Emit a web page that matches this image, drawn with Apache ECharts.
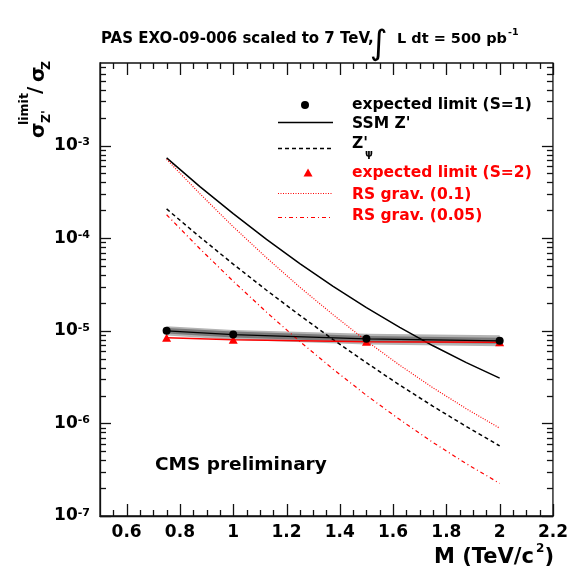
<!DOCTYPE html>
<html>
<head>
<meta charset="utf-8">
<script src="https://cdn.jsdelivr.net/npm/echarts@6/dist/echarts.min.js"></script>
<style>
html, body { margin: 0; padding: 0; background: #fff; }
#chart { width: 571px; height: 573px; }
</style>
</head>
<body>
<div id="chart"></div>
<script>
const FONT = '"DejaVu Sans", sans-serif';

// Expected limits at the simulated mass points (TeV/c^2)
const massPoints = [0.75, 1.0, 1.5, 2.0];
const limitS1 = [1.0e-5, 9.1e-6, 8.2e-6, 7.8e-6];
const limitS2 = [8.4e-6, 8.0e-6, 7.6e-6, 7.5e-6];
// Uncertainty bands around the S=1 expected limit
const bandOuterLow = [8.9e-6, 8.0e-6, 7.1e-6, 6.8e-6];
const bandOuterHigh = [1.12e-5, 1.02e-5, 9.3e-6, 8.95e-6];
const bandInnerLow = [9.35e-6, 8.45e-6, 7.55e-6, 7.25e-6];
const bandInnerHigh = [1.07e-5, 9.8e-6, 8.8e-6, 8.4e-6];

// Theory predictions, sigma(Z')/sigma(Z)
const massCurve = [0.75, 0.875, 1.0, 1.125, 1.25, 1.375, 1.5, 1.625, 1.75, 1.875, 2.0];
const ssmZp = [7.36e-4, 3.61e-4, 1.84e-4, 9.71e-5, 5.32e-5, 3.02e-5, 1.78e-5, 1.09e-5, 6.89e-6, 4.53e-6, 3.08e-6];
const zpPsi = [2.07e-4, 1.03e-4, 5.25e-5, 2.74e-5, 1.47e-5, 8.04e-6, 4.52e-6, 2.59e-6, 1.53e-6, 9.25e-7, 5.71e-7];
const rsGrav01 = [7.11e-4, 3.02e-4, 1.33e-4, 6.15e-5, 2.96e-5, 1.49e-5, 7.78e-6, 4.25e-6, 2.42e-6, 1.44e-6, 8.87e-7];
const rsGrav005 = [1.79e-4, 7.69e-5, 3.43e-5, 1.59e-5, 7.67e-6, 3.85e-6, 2.01e-6, 1.10e-6, 6.22e-7, 3.67e-7, 2.25e-7];

// Axis ranges and ticks
const X_MIN = 0.5, X_MAX = 2.2;
const Y_MIN = 1e-7, Y_MAX = 7.8e-3;
const xMajorTicks = [0.6, 0.8, 1.0, 1.2, 1.4, 1.6, 1.8, 2.0, 2.2];
const xMinorTicks = [0.55, 0.65, 0.7, 0.75, 0.85, 0.9, 0.95, 1.05, 1.1, 1.15, 1.25, 1.3, 1.35,
  1.45, 1.5, 1.55, 1.65, 1.7, 1.75, 1.85, 1.9, 1.95, 2.05, 2.1, 2.15];
const yMajorTicks = [1e-7, 1e-6, 1e-5, 1e-4, 1e-3];
const yMinorTicks = [];
for (let e = -7; e <= -3; e++) {
  for (let m = 2; m <= 9; m++) {
    const v = m * Math.pow(10, e);
    if (v < Y_MAX) yMinorTicks.push(v);
  }
}

const pairs = (xs, ys) => xs.map((x, i) => [x, ys[i]]);

const FRAME = '#111';

function bandSeries(low, high, color) {
  return {
    type: 'custom', silent: true, z: 1,
    data: [[massPoints[0], limitS1[0]]],
    renderItem: (params, api) => {
      const pts = [];
      for (let i = 0; i < massPoints.length; i++) pts.push(api.coord([massPoints[i], high[i]]));
      for (let i = massPoints.length - 1; i >= 0; i--) pts.push(api.coord([massPoints[i], low[i]]));
      return { type: 'polygon', shape: { points: pts }, style: { fill: color } };
    }
  };
}

function xTickSeries() {
  return {
    type: 'custom', silent: true, clip: false, z: 20,
    data: xMajorTicks.map(v => [v, 1e-5, 12]).concat(xMinorTicks.map(v => [v, 1e-5, 6])),
    encode: { x: 0, y: 1 },
    renderItem: (params, api) => {
      const cs = params.coordSys;
      const x = Math.round(api.coord([api.value(0), api.value(1)])[0]) + 0.5;
      const len = api.value(2);
      const yb = cs.y + cs.height, yt = cs.y;
      const st = { stroke: FRAME, lineWidth: 1.3 };
      return { type: 'group', children: [
        { type: 'line', shape: { x1: x, y1: yb, x2: x, y2: yb - len }, style: st },
        { type: 'line', shape: { x1: x, y1: yt, x2: x, y2: yt + len }, style: st }
      ] };
    }
  };
}

function yTickSeries() {
  return {
    type: 'custom', silent: true, clip: false, z: 20,
    data: yMajorTicks.map(v => [1.0, v, 11]).concat(yMinorTicks.map(v => [1.0, v, 6])),
    encode: { x: 0, y: 1 },
    renderItem: (params, api) => {
      const cs = params.coordSys;
      const y = Math.round(api.coord([api.value(0), api.value(1)])[1]) + 0.5;
      const len = api.value(2);
      const xl = cs.x, xr = cs.x + cs.width;
      const st = { stroke: FRAME, lineWidth: 1.3 };
      return { type: 'group', children: [
        { type: 'line', shape: { x1: xl, y1: y, x2: xl + len, y2: y }, style: st },
        { type: 'line', shape: { x1: xr, y1: y, x2: xr - len, y2: y }, style: st }
      ] };
    }
  };
}

function txt(text, x, y, size, color, extra) {
  return {
    type: 'text', silent: true,
    style: Object.assign({
      text: text, x: x, y: y, fill: color || '#000',
      fontFamily: FONT, fontSize: size, fontWeight: 'bold',
      align: 'left', textAlign: 'left', verticalAlign: 'middle', textVerticalAlign: 'middle'
    }, extra || {})
  };
}

// Legend sample geometry
const LG_X1 = 278, LG_X2 = 333, LG_TX = 352;
const legendGraphics = [
  { type: 'circle', silent: true, shape: { cx: 305, cy: 105, r: 4 }, style: { fill: '#000' } },
  txt('expected limit (S=1)', LG_TX, 105, 15.5, '#000'),
  { type: 'line', silent: true, shape: { x1: LG_X1, y1: 122.5, x2: LG_X2, y2: 122.5 }, style: { stroke: '#000', lineWidth: 1.5 } },
  txt("SSM Z'", LG_TX, 124, 15.5, '#000'),
  { type: 'line', silent: true, shape: { x1: LG_X1, y1: 148.5, x2: LG_X2, y2: 148.5 }, style: { stroke: '#000', lineWidth: 1.5, lineDash: [4, 3] } },
  txt("Z'", LG_TX, 144, 15.5, '#000'),
  txt('\u03c8', LG_TX + 13, 154, 10, '#000'),
  { type: 'polygon', silent: true, shape: { points: [[308, 168.5], [312.5, 176.5], [303.5, 176.5]] }, style: { fill: '#ff0000' } },
  txt('expected limit (S=2)', LG_TX, 172.5, 15.5, '#ff0000'),
  { type: 'line', silent: true, shape: { x1: LG_X1, y1: 193.5, x2: LG_X2, y2: 193.5 }, style: { stroke: '#ff0000', lineWidth: 1.2, lineDash: [1, 1.5] } },
  txt('RS grav. (0.1)', LG_TX, 194.5, 15.5, '#ff0000'),
  { type: 'line', silent: true, shape: { x1: LG_X1, y1: 217.5, x2: LG_X2, y2: 217.5 }, style: { stroke: '#ff0000', lineWidth: 1.2, lineDash: [4, 3, 1, 3] } },
  txt('RS grav. (0.05)', LG_TX, 216, 15.5, '#ff0000')
];

// Rotated y-axis title: sigma^limit_Z' / sigma_Z
const yTitle = {
  type: 'group', x: 44, y: 138, rotation: Math.PI / 2, silent: true,
  children: [
    txt('\u03c3', 0, -5, 20, '#000'),
    txt('limit', 13, -19, 12.5, '#000'),
    txt("Z'", 15, 3, 12.5, '#000'),
    txt('/', 44, -8, 20, '#000'),
    txt('\u03c3', 56, -5, 20, '#000'),
    txt('Z', 68, 3, 12.5, '#000')
  ]
};

// Header line: PAS EXO-09-006 scaled to 7 TeV, integral L dt = 500 pb^-1
const headerGraphics = [
  txt('PAS EXO-09-006 scaled to 7 TeV,', 101, 39, 15, '#000'),
  txt('\u222b', 370, 45, 34, '#000', { fontWeight: 'normal' }),
  txt('L dt = 500 pb', 397, 39, 14.5, '#000'),
  txt('-1', 508, 32.5, 9.5, '#000')
];

// x-axis title M (TeV/c^2)
const xTitleGraphics = [
  txt('M (TeV/c', 434, 558, 21, '#000'),
  txt('2', 536, 549, 12, '#000'),
  txt(')', 544.5, 558, 21, '#000')
];

const chart = echarts.init(document.getElementById('chart'), null, { renderer: 'canvas' });

chart.setOption({
  animation: false,
  backgroundColor: '#fff',
  grid: { left: 100, top: 63, width: 455, height: 453, show: true, borderColor: FRAME, borderWidth: 1.3, backgroundColor: 'transparent' },
  xAxis: {
    type: 'value', min: X_MIN, max: X_MAX, interval: 0.1,
    axisLine: { show: true, onZero: false, lineStyle: { color: FRAME, width: 1.3 } },
    axisTick: { show: false }, splitLine: { show: false },
    axisLabel: {
      interval: 0, margin: 8, color: '#000', fontFamily: FONT, fontSize: 17, fontWeight: 'bold',
      formatter: v => (Math.round(v * 10) % 2 === 0 ? String(+v.toFixed(1)) : '')
    }
  },
  yAxis: {
    type: 'log', logBase: 10, min: Y_MIN, max: Y_MAX,
    axisLine: { show: true, lineStyle: { color: FRAME, width: 1.3 } },
    axisTick: { show: false }, splitLine: { show: false }, minorTick: { show: false },
    axisLabel: {
      margin: 10, color: '#000',
      formatter: v => {
        const lg = Math.log10(v);
        const e = Math.round(lg);
        if (Math.abs(lg - e) > 1e-6) return '';
        return '{b|10}{s|' + (e < 0 ? '-' + (-e) : e) + '}';
      },
      rich: {
        b: { fontFamily: FONT, fontSize: 17, fontWeight: 'bold', color: '#000', verticalAlign: 'bottom' },
        s: { fontFamily: FONT, fontSize: 11, fontWeight: 'bold', color: '#000', verticalAlign: 'top' }
      }
    }
  },
  series: [
    bandSeries(bandOuterLow, bandOuterHigh, '#b4b4b4'),
    bandSeries(bandInnerLow, bandInnerHigh, '#7a7a7a'),
    {
      name: 'SSM Z\'', type: 'line', data: pairs(massCurve, ssmZp),
      symbol: 'none', lineStyle: { color: '#000', width: 1.5 }, z: 3, silent: true
    },
    {
      name: 'Z\'psi', type: 'line', data: pairs(massCurve, zpPsi),
      symbol: 'none', lineStyle: { color: '#000', width: 1.5, type: [4, 3] }, z: 3, silent: true
    },
    {
      name: 'RS grav. (0.1)', type: 'line', data: pairs(massCurve, rsGrav01),
      symbol: 'none', lineStyle: { color: '#ff0000', width: 1.2, type: [1, 1.5] }, z: 3, silent: true
    },
    {
      name: 'RS grav. (0.05)', type: 'line', data: pairs(massCurve, rsGrav005),
      symbol: 'none', lineStyle: { color: '#ff0000', width: 1.2, type: [4, 3, 1, 3] }, z: 3, silent: true
    },
    {
      name: 'expected limit (S=2)', type: 'line', data: pairs(massPoints, limitS2),
      symbol: 'triangle', symbolSize: [9, 8], itemStyle: { color: '#ff0000' },
      lineStyle: { color: '#ff0000', width: 1.5 }, z: 4, silent: true
    },
    {
      name: 'expected limit (S=1)', type: 'line', data: pairs(massPoints, limitS1),
      symbol: 'circle', symbolSize: 8, itemStyle: { color: '#000' },
      lineStyle: { color: '#000', width: 1.2 }, z: 5, silent: true
    },
    xTickSeries(),
    yTickSeries()
  ],
  graphic: headerGraphics.concat(xTitleGraphics, [yTitle, txt('CMS preliminary', 155, 465, 18.5, '#000')], legendGraphics)
});
</script>
</body>
</html>
